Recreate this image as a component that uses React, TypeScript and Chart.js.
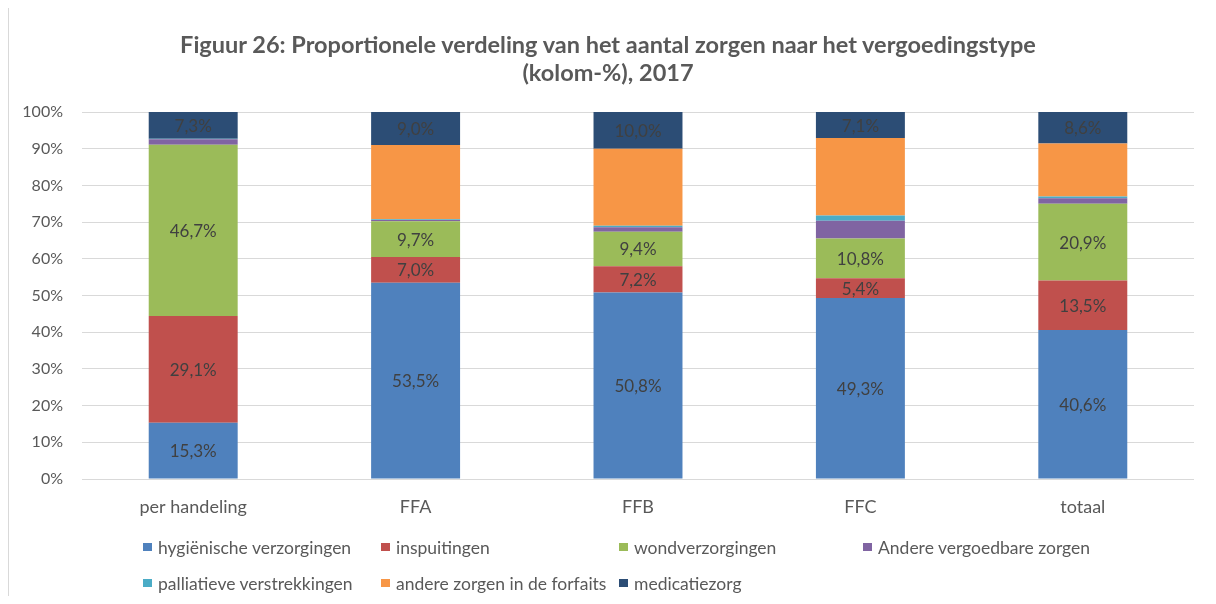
import React, { useEffect, useRef } from "react";
import { Chart, registerables } from "chart.js";

Chart.register(...registerables);

const categories = ["per handeling", "FFA", "FFB", "FFC", "totaal"];
const seriesNames = [
  "hygiënische verzorgingen",
  "inspuitingen",
  "wondverzorgingen",
  "Andere vergoedbare zorgen",
  "palliatieve verstrekkingen",
  "andere zorgen in de forfaits",
  "medicatiezorg",
];
const hygienische = [15.3, 53.5, 50.8, 49.3, 40.6];
const inspuitingen = [29.1, 7.0, 7.2, 5.4, 13.5];
const wondverzorgingen = [46.7, 9.7, 9.4, 10.8, 20.9];
const andereVergoedbare = [1.5, 0.4, 1.2, 4.9, 1.5];
const palliatieve = [0.1, 0.2, 0.4, 1.4, 0.5];
const andereForfaits = [0.0, 20.2, 21.0, 21.1, 14.4];
const medicatiezorg = [7.3, 9.0, 10.0, 7.1, 8.6];
const seriesColors = ["#4F81BD", "#C0504D", "#9BBB59", "#8064A2", "#4BACC6", "#F79646", "#2C4D75"];
const labelledSeries = [0, 1, 2, 6];
const yTicks = [0, 10, 20, 30, 40, 50, 60, 70, 80, 90, 100];
const titleLines = [
  "Figuur 26: Proportionele verdeling van het aantal zorgen naar het vergoedingstype",
  "(kolom-%), 2017",
];

const FONT = "Lato, 'Open Sans', sans-serif";

const seriesData = [hygienische, inspuitingen, wondverzorgingen, andereVergoedbare, palliatieve, andereForfaits, medicatiezorg];

const fmt = (v: number) => v.toFixed(1).replace(".", ",") + "%";

const labelPlugin = {
  id: "segLabels",
  afterDatasetsDraw(chart: any) {
    const ctx = chart.ctx;
    ctx.save();
    ctx.font = `17px ${FONT}`;
    ctx.fillStyle = "#404040";
    ctx.textAlign = "center";
    ctx.textBaseline = "middle";
    labelledSeries.forEach((di) => {
      const meta = chart.getDatasetMeta(di);
      meta.data.forEach((bar: any, i: number) => {
        const v = chart.data.datasets[di].data[i];
        const { x, y, base } = bar.getProps(["x", "y", "base"], true);
        ctx.fillText(fmt(v), x, (y + base) / 2 + 1);
      });
    });
    ctx.restore();
  },
};

export default function App() {
  const ref = useRef<HTMLCanvasElement>(null);
  useEffect(() => {
    document.body.style.overflow = "hidden";
    const chart = new Chart(ref.current!, {
      type: "bar",
      data: {
        labels: categories,
        datasets: seriesNames.map((name, i) => ({
          label: name,
          data: seriesData[i],
          backgroundColor: seriesColors[i],
          borderWidth: 0,
          barPercentage: 0.4,
          categoryPercentage: 1,
        })),
      },
      options: {
        animation: false,
        responsive: false,
        maintainAspectRatio: false,
        layout: { padding: { top: 104, right: 14, bottom: 77, left: 0 } },
        plugins: { legend: { display: false }, tooltip: { enabled: false }, title: { display: false } },
        scales: {
          x: {
            stacked: true,
            grid: { display: false },
            border: { display: false },
            ticks: { color: "#595959", font: { family: FONT, size: 18 }, padding: 9 },
            afterFit: (s: any) => { s.height = 40; },
          },
          y: {
            stacked: true,
            min: 0,
            max: 100,
            afterBuildTicks: (s: any) => { s.ticks = yTicks.map((v) => ({ value: v })); },
            grid: { color: "#d9d9d9", lineWidth: 1, drawTicks: false },
            border: { display: false },
            ticks: { color: "#595959", font: { family: FONT, size: 16 }, padding: 19, callback: (v: any) => v + "%" },
            afterFit: (s: any) => { s.width = 74; },
          },
        },
      },
      plugins: [labelPlugin],
    });
    return () => chart.destroy();
  }, []);

  return (
    <div style={{ position: "relative", width: 1200, height: 588, fontFamily: FONT }}>
      <div style={{ position: "absolute", left: 0, top: -2, width: 1208, height: 1, background: "#d9d9d9" }} />
      <div style={{ position: "absolute", left: 0, top: -2, width: 1, height: 600, background: "#d9d9d9" }} />
      <canvas ref={ref} width={1200} height={588} style={{ position: "absolute", left: 0, top: 0 }} />
      <div style={{ position: "absolute", left: 0, top: 22, width: 1200, textAlign: "center", color: "#595959", fontWeight: 700, fontSize: 23.5, lineHeight: "28px" }}>
        {titleLines.map((t, i) => (<div key={i}>{t}</div>))}
      </div>
      <div style={{ position: "absolute", left: 135, top: 527, display: "grid", gridTemplateColumns: "238px 238px 244px 240px", rowGap: 12, color: "#595959", fontSize: 17.5 }}>
        {seriesNames.map((n, i) => (
          <div key={i} style={{ display: "flex", alignItems: "center", height: 24, whiteSpace: "nowrap" }}>
            <span style={{ display: "inline-block", width: 9, height: 8, background: seriesColors[i], marginRight: 6 }} />
            <span>{n}</span>
          </div>
        ))}
      </div>
    </div>
  );
}
